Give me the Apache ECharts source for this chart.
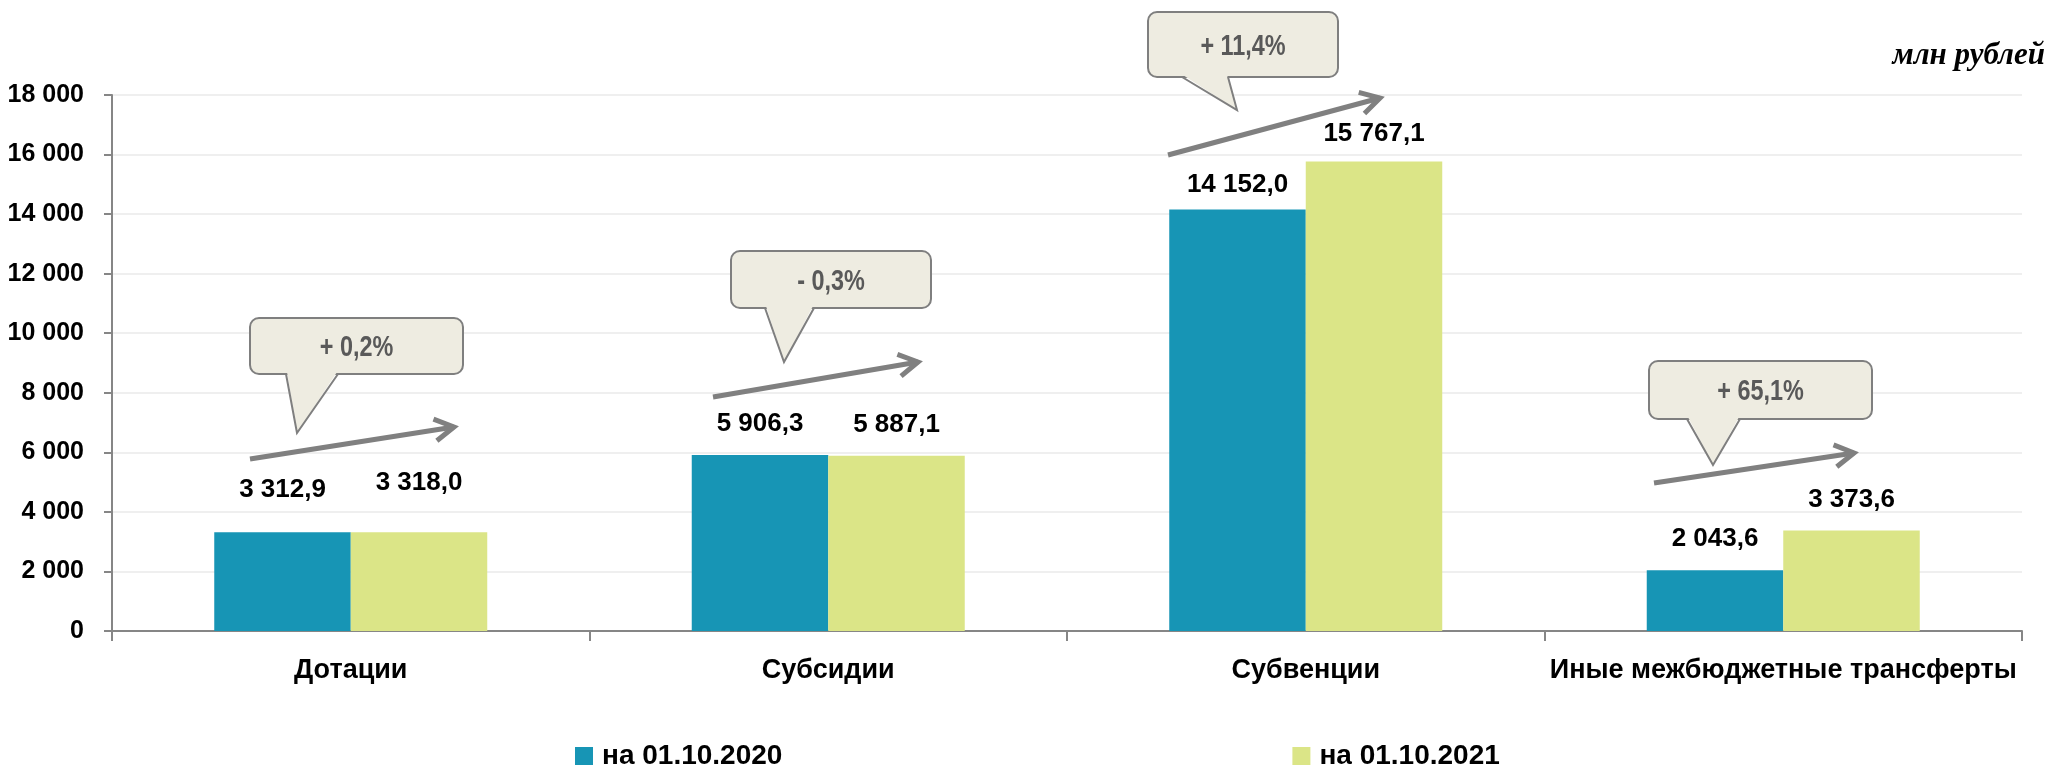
<!DOCTYPE html>
<html><head><meta charset="utf-8">
<script src="https://cdn.jsdelivr.net/npm/echarts@6/dist/echarts.min.js"></script>
<style>html,body{margin:0;padding:0;background:#fff}#c{width:2049px;height:767px}</style>
</head><body><div id="c"></div>
<script>
// ---- data ----
const categories = ['Дотации', 'Субсидии', 'Субвенции', 'Иные межбюджетные трансферты'];
const seriesNames = ['на 01.10.2020', 'на 01.10.2021'];
const values2020 = [3312.9, 5906.3, 14152.0, 2043.6];
const values2021 = [3318.0, 5887.1, 15767.1, 3373.6];
const changeLabels = ['+ 0,2%', '- 0,3%', '+ 11,4%', '+ 65,1%'];
const yMin = 0, yMax = 18000, yInterval = 2000;
const unitLabel = 'млн рублей';

// ---- styling / layout (not data) ----
const SANS = "'Liberation Sans', Arial, sans-serif";
const colors = ['#1795B5', '#DBE587'];
const labelDist2020 = [30, 18, 12, 18];
const labelDist2021 = [36, 18, 15, 18];
// callout decorations: bubble rect, pointer base x-range, pointer tip, arrow start/end (pixels)
const callouts = [
  {rect: [250, 318, 213, 56], base: [286, 338], tip: [297, 433], arrow: [250, 459, 454, 427]},
  {rect: [731, 251, 200, 57], base: [765, 814], tip: [784, 362], arrow: [713, 397, 918, 362]},
  {rect: [1148, 12, 190, 65], base: [1182, 1228], tip: [1237, 110], arrow: [1168, 155, 1380, 98]},
  {rect: [1649, 361, 223, 58], base: [1687, 1740], tip: [1713, 465], arrow: [1654, 483, 1854, 453]}
];

function fmtNum(v, dec) {
  const s = v.toFixed(dec);
  const parts = s.split('.');
  const intPart = parts[0].replace(/\B(?=(\d{3})+(?!\d))/g, ' ');
  return parts.length > 1 ? intPart + ',' + parts[1] : intPart;
}

function buildGraphics() {
  const els = [];
  callouts.forEach((c, i) => {
    const [x, y, w, h] = c.rect;
    const bottom = y + h;
    els.push({type: 'rect', z: 100, shape: {x, y, width: w, height: h, r: 9},
      style: {fill: '#EEECE1', stroke: '#7F7F7F', lineWidth: 2}});
    els.push({type: 'polygon', z: 101, shape: {points: [[c.base[0] + 1, bottom - 2], [c.base[1] - 1, bottom - 2], c.tip]},
      style: {fill: '#EEECE1', stroke: null}});
    els.push({type: 'polyline', z: 102, shape: {points: [[c.base[0], bottom], c.tip, [c.base[1], bottom]]},
      style: {fill: null, stroke: '#7F7F7F', lineWidth: 2, lineJoin: 'miter'}});
    els.push({type: 'text', z: 103, x: x + w / 2, y: y + h / 2 + 2, scaleX: 0.78,
      style: {text: changeLabels[i], font: 'bold 30px ' + SANS, fill: '#595959',
        align: 'center', verticalAlign: 'middle', textAlign: 'center', textVerticalAlign: 'middle'}});
    // arrow
    const [x1, y1, x2, y2] = c.arrow;
    const dx = x2 - x1, dy = y2 - y1, L = Math.hypot(dx, dy);
    const ux = -dx / L, uy = -dy / L;
    const a = Math.PI / 6, len = 22;
    const r1 = [x2 + len * (ux * Math.cos(a) - uy * Math.sin(a)), y2 + len * (ux * Math.sin(a) + uy * Math.cos(a))];
    const r2 = [x2 + len * (ux * Math.cos(-a) - uy * Math.sin(-a)), y2 + len * (ux * Math.sin(-a) + uy * Math.cos(-a))];
    els.push({type: 'polyline', z: 90, shape: {points: [[x1, y1], [x2, y2]]},
      style: {stroke: '#808080', lineWidth: 5, fill: null}});
    els.push({type: 'polyline', z: 90, shape: {points: [r1, [x2, y2], r2]},
      style: {stroke: '#808080', lineWidth: 5, fill: null, lineJoin: 'miter'}});
  });
  return els;
}

const labelStyle = {show: true, position: 'top', color: '#000', fontWeight: 'bold', fontSize: 26, fontFamily: SANS,
  formatter: p => fmtNum(p.value, 1)};

const chart = echarts.init(document.getElementById('c'), null, {renderer: 'canvas'});
chart.setOption({
  animation: false,
  backgroundColor: '#fff',
  title: {text: unitLabel, right: 4, top: 40, padding: 0,
    textStyle: {fontFamily: "'Liberation Serif', serif", fontStyle: 'italic', fontWeight: 'bold', fontSize: 31, color: '#000'}},
  legend: {data: seriesNames, left: 570, top: 737, itemWidth: 18, itemHeight: 18, itemGap: 510, icon: 'rect',
    textStyle: {fontFamily: SANS, fontWeight: 'bold', fontSize: 28, color: '#000', padding: [0, 0, 0, 4]}},
  grid: {left: 112, right: 27, top: 95, bottom: 136, containLabel: false, outerBoundsMode: 'none'},
  xAxis: {type: 'category', data: categories,
    axisLine: {lineStyle: {color: '#868686', width: 2}},
    axisTick: {show: true, length: 10, lineStyle: {color: '#868686', width: 2}},
    axisLabel: {color: '#000', fontWeight: 'bold', fontSize: 27, fontFamily: SANS, margin: 26, interval: 0}},
  yAxis: {type: 'value', min: yMin, max: yMax, interval: yInterval,
    axisLine: {show: true, lineStyle: {color: '#868686', width: 2}},
    axisTick: {show: true, length: 8, lineStyle: {color: '#868686', width: 2}},
    splitLine: {lineStyle: {color: '#EFEFEF', width: 2}},
    axisLabel: {color: '#000', fontWeight: 'bold', fontSize: 25, fontFamily: SANS, margin: 28,
      formatter: v => fmtNum(v, 0)}},
  series: [
    {name: seriesNames[0], type: 'bar', barWidth: 136.5, barGap: '0%', itemStyle: {color: colors[0]},
      data: values2020.map((v, i) => ({value: v, label: {distance: labelDist2020[i]}})), label: labelStyle},
    {name: seriesNames[1], type: 'bar', barWidth: 136.5, barGap: '0%', itemStyle: {color: colors[1]},
      data: values2021.map((v, i) => ({value: v, label: {distance: labelDist2021[i]}})), label: labelStyle}
  ],
  graphic: buildGraphics()
});
</script></body></html>
